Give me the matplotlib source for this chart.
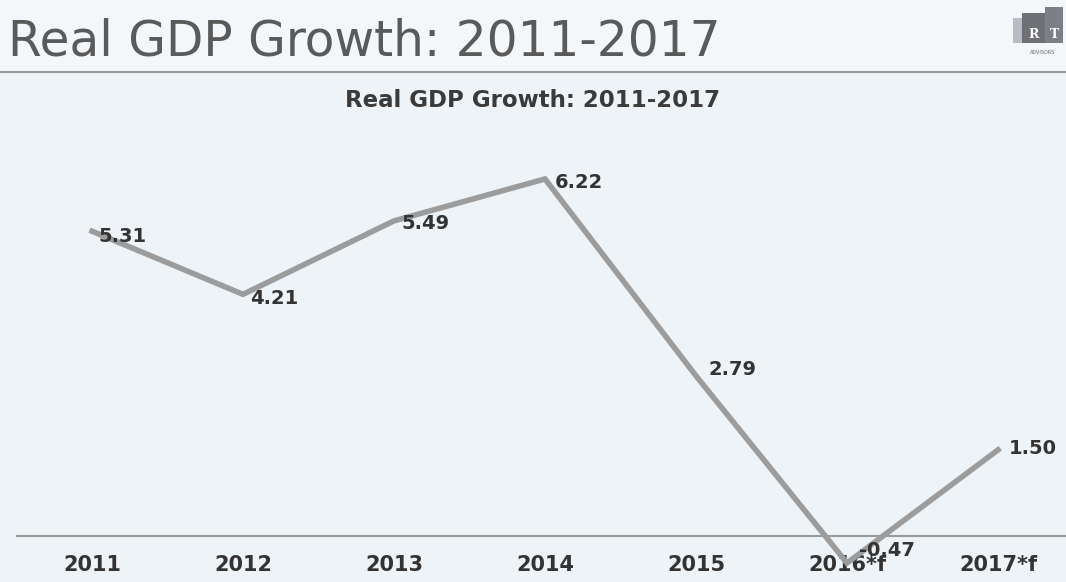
import matplotlib
matplotlib.use("Agg")
import matplotlib.pyplot as plt
from matplotlib.patches import Rectangle
from matplotlib.lines import Line2D

# ---- data ----
categories = ["2011", "2012", "2013", "2014", "2015", "2016*f", "2017*f"]
gdp_growth = [5.31, 4.21, 5.49, 6.22, 2.79, -0.47, 1.50]
value_labels = ["5.31", "4.21", "5.49", "6.22", "2.79", "-0.47", "1.50"]
slide_title = "Real GDP Growth: 2011-2017"
chart_title = "Real GDP Growth: 2011-2017"

# label offsets in pixels (style)
label_offsets = [(6, -5), (7, -4), (7, -3), (10, -4), (12, 6), (12, 12), (11, 1)]

W, H = 1066, 582
DPI = 100
fig = plt.figure(figsize=(W / DPI, H / DPI), dpi=DPI)
fig.patch.set_facecolor("#eef3f7")

# top band slightly whiter
fig.add_artist(Rectangle((0, 1 - 72 / H), 1, 72 / H, transform=fig.transFigure,
                         facecolor="#f4f7f9", edgecolor="none", zorder=0))

# slide title
fig.text(8 / W, 1 - 55 / H, slide_title, fontsize=35, color="#5a5a5a",
         family="DejaVu Sans", ha="left", va="baseline")
# rule under title
fig.add_artist(Line2D([0, 1], [1 - 72 / H, 1 - 72 / H], transform=fig.transFigure,
                      color="#9a9a9a", lw=1.5))

# logo
fig.add_artist(Rectangle((1013 / W, 1 - 43 / H), 9 / W, 25 / H, transform=fig.transFigure,
                         facecolor="#b8bcc4", edgecolor="none"))
fig.add_artist(Rectangle((1022 / W, 1 - 43 / H), 23 / W, 30 / H, transform=fig.transFigure,
                         facecolor="#6e7076", edgecolor="none"))
fig.add_artist(Rectangle((1045 / W, 1 - 43 / H), 18 / W, 36 / H, transform=fig.transFigure,
                         facecolor="#7d7f86", edgecolor="none"))
fig.text(1034 / W, 1 - 35 / H, "R", fontsize=9, color="white", weight="bold",
         family="DejaVu Serif", ha="center", va="center")
fig.text(1054 / W, 1 - 35 / H, "T", fontsize=9, color="white", weight="bold",
         family="DejaVu Serif", ha="center", va="center")
fig.text(1043 / W, 1 - 52 / H, "ADVISORS", fontsize=3.5, color="#666666",
         family="DejaVu Sans", ha="center", va="center")

# axes: categories centred at 92 + 151*i px; zero line at y=536 px
step = 151.0
left_px = 92 - step / 2
ax_w_px = step * len(categories)
bottom_px = 536
top_px = 130
ax = fig.add_axes([left_px / W, (H - bottom_px) / H, ax_w_px / W, (bottom_px - top_px) / H])
ax.set_facecolor("none")
px_per_unit = 57.4
ax.set_xlim(-0.5, len(categories) - 0.5)
ax.set_ylim(0, (bottom_px - top_px) / px_per_unit)

x = list(range(len(categories)))
ax.plot(x, gdp_growth, color="#9c9c9c", lw=4, solid_joinstyle="miter", clip_on=False, zorder=3)

for xi, yi, lab, (dx, dy) in zip(x, gdp_growth, value_labels, label_offsets):
    ax.annotate(lab, (xi, yi), xytext=(dx * 72 / DPI, dy * 72 / DPI), textcoords="offset points",
                ha="left", va="center", fontsize=14, weight="bold", color="#333333",
                annotation_clip=False, zorder=4)

for s in ["top", "right", "left"]:
    ax.spines[s].set_visible(False)
ax.spines["bottom"].set_color("#9a9a9a")
ax.spines["bottom"].set_linewidth(1.5)
ax.set_yticks([])
ax.set_xticks(x)
ax.set_xticklabels(categories, fontsize=15, weight="bold", color="#333333")
ax.tick_params(axis="x", length=0, pad=14)

fig.text(533 / W, 1 - 100 / H, chart_title, fontsize=16.5, weight="bold", color="#3a3a3a",
         ha="center", va="center")

fig.savefig("out.png", dpi=DPI, facecolor=fig.get_facecolor())
